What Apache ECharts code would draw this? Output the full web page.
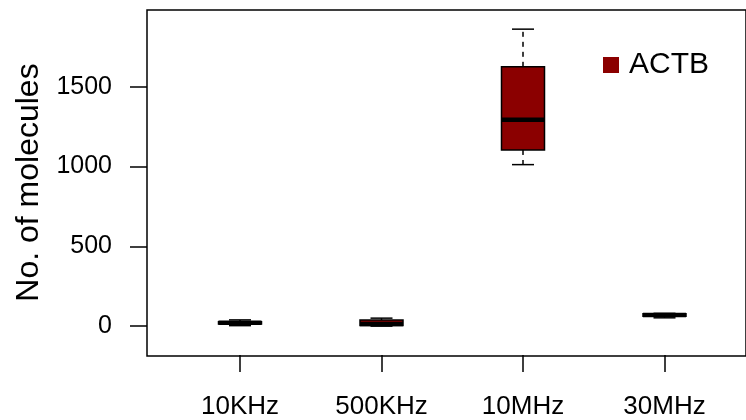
<!DOCTYPE html>
<html>
<head>
<meta charset="utf-8">
<style>
  html, body { margin: 0; padding: 0; background: #fff; }
  #chart { width: 746px; height: 420px; }
</style>
<script src="https://cdn.jsdelivr.net/npm/echarts@6/dist/echarts.min.js"></script>
</head>
<body>
<div id="chart"></div>
<script>
// data
var categories = ['10KHz', '500KHz', '10MHz', '30MHz'];
var mins    = [3, 0, 1012, 52];
var q1s     = [14, 4, 1104, 62];
var medians = [21, 14, 1294, 70];
var q3s     = [28, 38, 1625, 78];
var maxs    = [39, 50, 1861, 80];
var yTicks  = [0, 500, 1000, 1500];

var FONT = '"Liberation Sans", Arial, Helvetica, sans-serif';
var RED = '#8B0000';

var boxData = categories.map(function (c, i) {
  return [i, mins[i], q1s[i], medians[i], q3s[i], maxs[i]];
});

// R style box: dashed whiskers, short caps, thick median
function renderBox(params, api) {
  var i = api.value(0);
  var pMin = api.coord([i, api.value(1)]);
  var pQ1 = api.coord([i, api.value(2)]);
  var pMed = api.coord([i, api.value(3)]);
  var pQ3 = api.coord([i, api.value(4)]);
  var pMax = api.coord([i, api.value(5)]);
  var x = pMed[0];
  var half = 21.5, cap = 11;
  var lw = 1.5;
  return {
    type: 'group',
    children: [
      { type: 'line', shape: { x1: x, y1: pQ3[1], x2: x, y2: pMax[1] },
        style: { stroke: '#000', lineWidth: lw, lineDash: [5, 5] } },
      { type: 'line', shape: { x1: x, y1: pQ1[1], x2: x, y2: pMin[1] },
        style: { stroke: '#000', lineWidth: lw, lineDash: [5, 5] } },
      { type: 'line', shape: { x1: x - cap, y1: pMax[1], x2: x + cap, y2: pMax[1] },
        style: { stroke: '#000', lineWidth: lw } },
      { type: 'line', shape: { x1: x - cap, y1: pMin[1], x2: x + cap, y2: pMin[1] },
        style: { stroke: '#000', lineWidth: lw } },
      { type: 'rect', shape: { x: x - half, y: pQ3[1], width: half * 2, height: pQ1[1] - pQ3[1] },
        style: { fill: RED, stroke: '#000', lineWidth: lw } },
      { type: 'line', shape: { x1: x - half, y1: pMed[1], x2: x + half, y2: pMed[1] },
        style: { stroke: '#000', lineWidth: 4.5 } }
    ]
  };
}

var chart = echarts.init(document.getElementById('chart'));
chart.setOption({
  animation: false,
  backgroundColor: '#fff',
  textStyle: { fontFamily: FONT },
  legend: {
    left: 598,
    top: 45,
    icon: 'rect',
    itemWidth: 16,
    itemHeight: 16,
    textStyle: { fontFamily: FONT, fontSize: 30, color: '#000', padding: [0, 0, 0, 5] },
    data: ['ACTB']
  },
  grid: [
    { left: 169.25, right: 10.75, top: 10, bottom: 64 },
    // frame only
    { left: 147, right: -10, top: 10, bottom: 64, show: true,
      borderColor: '#000', borderWidth: 1.5, backgroundColor: 'transparent' }
  ],
  xAxis: [
    {
      type: 'category',
      gridIndex: 0,
      data: categories,
      axisLine: { show: false, onZero: false },
      axisTick: { show: true, alignWithLabel: true, length: 17, lineStyle: { color: '#000', width: 1.5 } },
      axisLabel: { color: '#000', fontSize: 26, margin: 39, fontFamily: FONT }
    },
    { type: 'value', gridIndex: 1, show: false }
  ],
  yAxis: [
    {
      type: 'value',
      gridIndex: 0,
      min: -181,
      max: 1981,
      offset: 22.25,
      name: 'No. of molecules',
      nameLocation: 'middle',
      nameGap: 90,
      nameTextStyle: { fontSize: 32, color: '#000', fontFamily: FONT },
      axisLine: { show: false },
      splitLine: { show: false },
      axisTick: { show: true, length: 17, customValues: yTicks, lineStyle: { color: '#000', width: 1.5 } },
      axisLabel: {
        color: '#000', fontSize: 25, margin: 35, customValues: yTicks, fontFamily: FONT,
        formatter: function (v) { return String(v); }
      }
    },
    { type: 'value', gridIndex: 1, show: false }
  ],
  series: [
    {
      name: 'ACTB',
      type: 'custom',
      xAxisIndex: 0,
      yAxisIndex: 0,
      itemStyle: { color: RED },
      renderItem: renderBox,
      encode: { x: 0, y: [1, 2, 3, 4, 5] },
      data: boxData
    }
  ]
});
</script>
</body>
</html>
